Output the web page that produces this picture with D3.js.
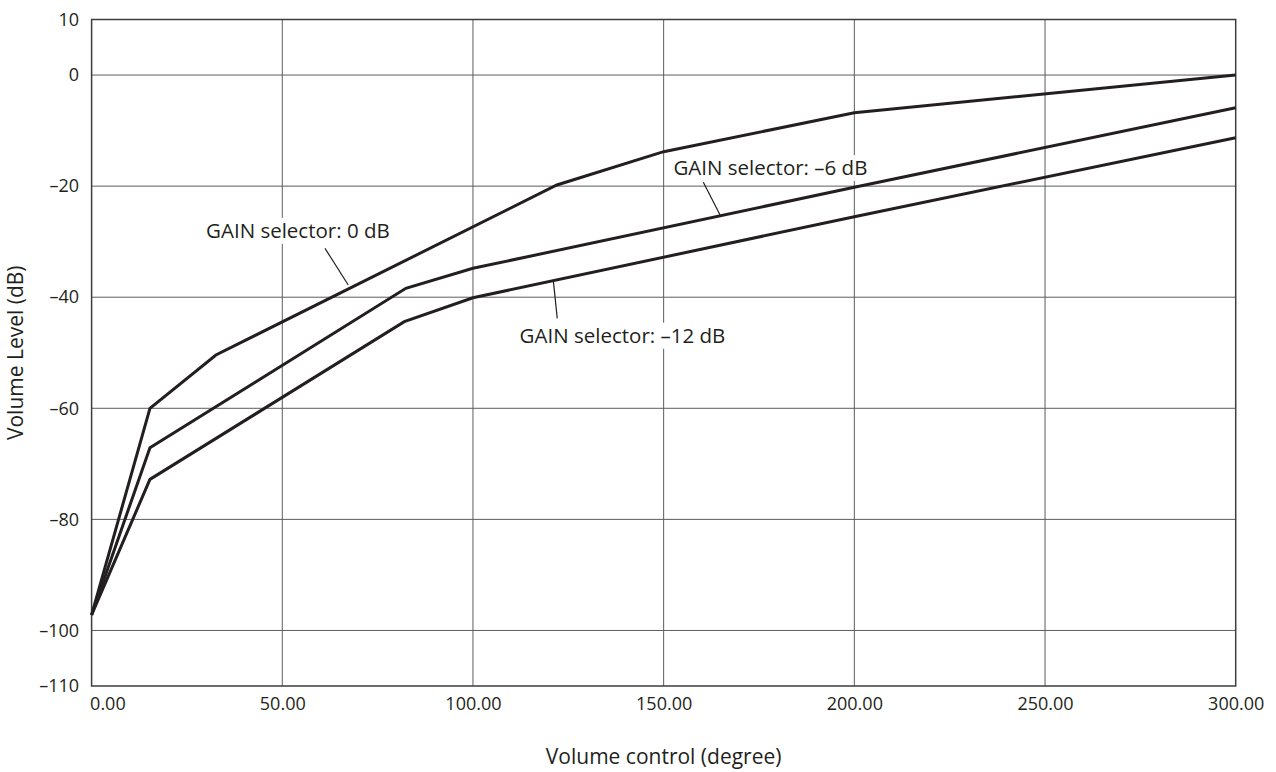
<!DOCTYPE html>
<html>
<head>
<meta charset="utf-8">
<script src="https://cdn.jsdelivr.net/npm/d3@7"></script>
<style>
  body { margin: 0; background: #fff; }
  text { font-family: "Open Sans", "Noto Sans", sans-serif; fill: #231f20; }
</style>
</head>
<body>
<svg id="chart"></svg>
<script>
// Chart size and margins
const width = 1276;
const height = 772;
const margin = { top: 19.5, right: 40.3, bottom: 86, left: 91.6 };

// Data: volume control (degree) vs volume level (dB)
const gain0Deg = [0, 15.3, 32.6, 122, 150, 200, 300];
const gain0Db = [-97.2, -60, -50.4, -19.8, -13.8, -6.8, 0];

const gain6Deg = [0, 15.3, 82.4, 100, 200, 300];
const gain6Db = [-97.2, -67.1, -38.4, -34.8, -20.2, -5.9];

const gain12Deg = [0, 15.3, 82, 100, 200, 300];
const gain12Db = [-97.2, -72.8, -44.4, -40.1, -25.5, -11.3];

// Tick labels
const xTicks = [0, 50, 100, 150, 200, 250, 300];
const yTicks = [10, 0, -20, -40, -60, -80, -100, -110];

// Callout labels (text centre and leader line, in data units)
const labelNames = ["GAIN selector: 0 dB", "GAIN selector: \u20136 dB", "GAIN selector: \u201312 dB"];
const labelDeg = [54.1, 178.0, 139.2];
const labelDb = [-29.3, -18.0, -48.2];
const leaderFrom = [[61.2, -31.2], [160.4, -19.3], [121.1, -37.2]];
const leaderTo = [[67.3, -37.8], [164.8, -25.2], [122.1, -43.8]];

const series = [
  gain0Deg.map((d, i) => [d, gain0Db[i]]),
  gain6Deg.map((d, i) => [d, gain6Db[i]]),
  gain12Deg.map((d, i) => [d, gain12Db[i]])
];

const innerW = width - margin.left - margin.right;
const innerH = height - margin.top - margin.bottom;

const x = d3.scaleLinear().domain([0, 300]).range([0, innerW]);
const y = d3.scaleLinear().domain([-110, 10]).range([innerH, 0]);

const svg = d3.select("#chart")
  .attr("width", width)
  .attr("height", height);

const g = svg.append("g")
  .attr("transform", "translate(" + margin.left + "," + margin.top + ")");

// Grid lines
g.append("g").selectAll("line.gx")
  .data(xTicks.slice(1, -1))
  .join("line")
  .attr("x1", d => x(d)).attr("x2", d => x(d))
  .attr("y1", 0).attr("y2", innerH)
  .attr("stroke", "#5c5c5c")
  .attr("stroke-width", 1);

g.append("g").selectAll("line.gy")
  .data(yTicks.slice(1, -1))
  .join("line")
  .attr("x1", 0).attr("x2", innerW)
  .attr("y1", d => y(d)).attr("y2", d => y(d))
  .attr("stroke", "#5c5c5c")
  .attr("stroke-width", 1);

// Frame
g.append("rect")
  .attr("width", innerW)
  .attr("height", innerH)
  .attr("fill", "none")
  .attr("stroke", "#3d3d3d")
  .attr("stroke-width", 1.5);

// Axes
const dash = v => d3.format("d")(v).replace("\u2212", "\u2013").replace("-", "\u2013");

const yAxis = g.append("g")
  .call(d3.axisLeft(y).tickValues(yTicks).tickSize(0).tickPadding(12.5).tickFormat(dash));
yAxis.select(".domain").remove();
yAxis.selectAll("text").style("font-size", "18px");

const xAxis = g.append("g")
  .attr("transform", "translate(0," + innerH + ")")
  .call(d3.axisBottom(x).tickValues(xTicks).tickSize(0).tickPadding(11).tickFormat(d3.format(".2f")));
xAxis.select(".domain").remove();
xAxis.selectAll("text").style("font-size", "18px");
xAxis.selectAll("text").filter(d => d === 0)
  .attr("text-anchor", "start")
  .attr("x", -2);

// Lines
const line = d3.line().x(d => x(d[0])).y(d => y(d[1]));

g.append("g").selectAll("path")
  .data(series)
  .join("path")
  .attr("d", line)
  .attr("fill", "none")
  .attr("stroke", "#231f20")
  .attr("stroke-width", 3)
  .attr("stroke-linejoin", "miter");

// Callouts
const notes = g.append("g");
labelNames.forEach((name, i) => {
  const grp = notes.append("g");
  const bg = grp.append("rect").attr("fill", "#fff");
  const t = grp.append("text")
    .attr("x", x(labelDeg[i]))
    .attr("y", y(labelDb[i]))
    .attr("text-anchor", "middle")
    .style("font-size", "20.5px")
    .text(name);
  const bb = t.node().getBBox();
  bg.attr("x", bb.x - 3).attr("y", bb.y + 2)
    .attr("width", bb.width + 6).attr("height", bb.height - 2);
  grp.append("line")
    .attr("x1", x(leaderFrom[i][0])).attr("y1", y(leaderFrom[i][1]))
    .attr("x2", x(leaderTo[i][0])).attr("y2", y(leaderTo[i][1]))
    .attr("stroke", "#231f20")
    .attr("stroke-width", 1.2);
});

// Axis titles
svg.append("text")
  .attr("x", margin.left + innerW / 2)
  .attr("y", 764)
  .attr("text-anchor", "middle")
  .style("font-size", "21px")
  .text("Volume control (degree)");

svg.append("text")
  .attr("transform", "translate(23," + (margin.top + innerH / 2) + ") rotate(-90)")
  .attr("text-anchor", "middle")
  .style("font-size", "21px")
  .text("Volume Level (dB)");
</script>
</body>
</html>
